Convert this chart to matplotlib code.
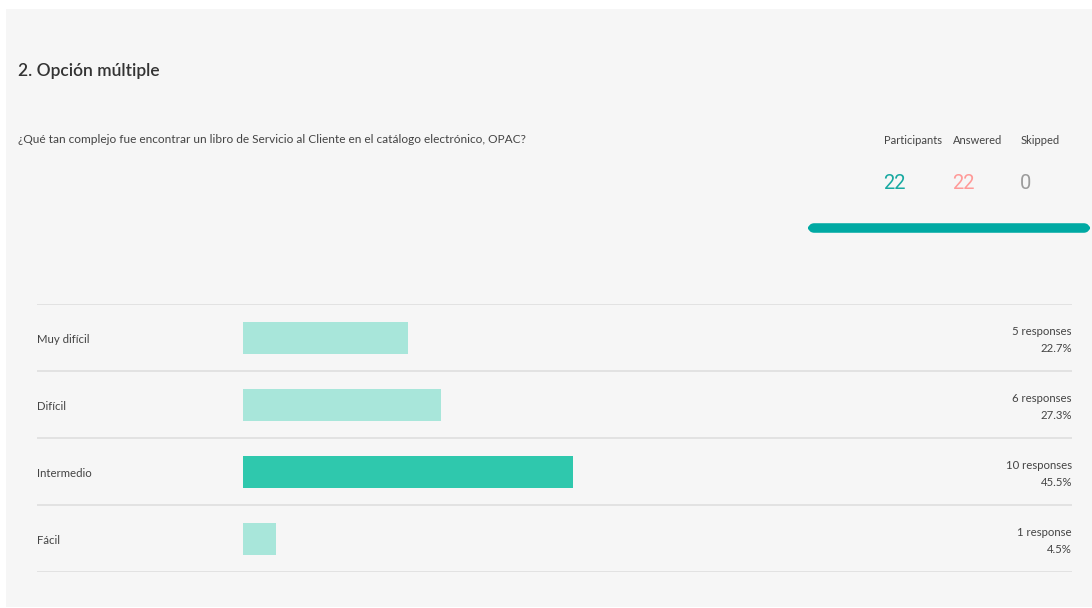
import matplotlib
matplotlib.use("Agg")
import matplotlib.pyplot as plt
from matplotlib.patches import Rectangle, FancyBboxPatch

# ---- data ----
title = "2. Opción múltiple"
question = "¿Qué tan complejo fue encontrar un libro de Servicio al Cliente en el catálogo electrónico, OPAC?"
categories = ["Muy difícil", "Difícil", "Intermedio", "Fácil"]
responses = [5, 6, 10, 1]
percents = ["22.7%", "27.3%", "45.5%", "4.5%"]
stat_labels = ["Participants", "Answered", "Skipped"]
stat_values = ["22", "22", "0"]

W, H = 1092, 608
fig = plt.figure(figsize=(W / 100, H / 100), dpi=100)
fig.patch.set_facecolor("white")
FONT = "Lato"

def fx(px):
    return px / W

def fy(py):
    return 1 - py / H

# gray panel
fig.patches.append(Rectangle((fx(6), fy(607)), fx(1092 - 6), (607 - 9) / H,
                             transform=fig.transFigure, facecolor="#f6f6f6",
                             edgecolor="none", zorder=-5))

fig.text(fx(18), fy(71), title, fontsize=12.5, family=FONT, color="#333333",
         ha="left", va="center", fontweight="semibold")
fig.text(fx(18), fy(139), question, fontsize=8.6, family=FONT, color="#444444",
         ha="left", va="center")

stat_x = [884, 953, 1021]
stat_colors = ["#18a9a1", "#ff9a98", "#9b9b9b"]
for x, lab, val, c in zip(stat_x, stat_labels, stat_values, stat_colors):
    fig.text(fx(x), fy(140), lab, fontsize=8.0, family=FONT, color="#444444",
             ha="left", va="center")
    fig.text(fx(x - 1), fy(184), val, fontsize=14.5, family="Roboto", color=c,
             ha="left", va="center")

# progress bar
fig.patches.append(FancyBboxPatch((fx(811), fy(230)), fx(1087 - 811), 4 / H,
                                  boxstyle="round,pad=0,rounding_size=0.003",
                                  mutation_aspect=W / H,
                                  transform=fig.transFigure, facecolor="#00a9a3",
                                  edgecolor="#00a9a3", linewidth=4, zorder=2,
                                  capstyle="round"))

# bar axes
ax_left, ax_right, ax_top, ax_bot = 37, 1072, 304, 572
ax = fig.add_axes([fx(ax_left), fy(ax_bot), fx(ax_right - ax_left), (ax_bot - ax_top) / H])
ax.set_facecolor("none")
px_per = 33.0
x0 = -(243 - ax_left) / px_per
x1 = (ax_right - 243) / px_per
ax.set_xlim(x0, x1)
ax.set_ylim(len(categories), 0)
for s in ax.spines.values():
    s.set_visible(False)
ax.set_xticks([])
ax.set_yticks([])

ypos = [i + 0.5 for i in range(len(categories))]
maxr = max(responses)
colors = ["#2fc8ad" if r == maxr else "#a8e6da" for r in responses]
ax.barh(ypos, responses, height=32 / 67, color=colors, left=0, zorder=2)

for i in range(len(categories) + 1):
    ax.axhline(i, color="#dddddd", linewidth=1.1, zorder=1)

for y, cat, r, p in zip(ypos, categories, responses, percents):
    ax.text(0.0, y + 0.03, cat, transform=ax.get_yaxis_transform(), fontsize=8.2,
            family=FONT, color="#444444", ha="left", va="center")
    lab = f"{r} response" if r == 1 else f"{r} responses"
    ax.text(1.0, y - 0.09, lab, transform=ax.get_yaxis_transform(), fontsize=8.2,
            family=FONT, color="#444444", ha="right", va="center")
    ax.text(1.0, y + 0.16, p, transform=ax.get_yaxis_transform(), fontsize=8.2,
            family=FONT, color="#444444", ha="right", va="center")

fig.savefig("out.png", dpi=100, facecolor=fig.get_facecolor())
